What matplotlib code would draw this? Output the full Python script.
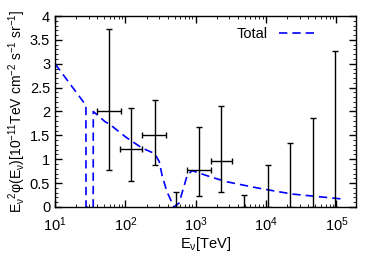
import numpy as np
import matplotlib.pyplot as plt
from matplotlib.ticker import LogLocator, MultipleLocator, NullFormatter, FormatStrFormatter

plt.rcParams['font.family'] = ['Liberation Sans', 'DejaVu Sans']
plt.rcParams['mathtext.fontset'] = 'custom'
plt.rcParams['mathtext.rm'] = 'Liberation Sans'
plt.rcParams['mathtext.it'] = 'Liberation Sans'

# data points (with x ranges)
ex = [59, 120, 260, 1120, 2300]
ey = [2.02, 1.22, 1.50, 0.77, 0.97]
ey_lo = [0.78, 0.55, 0.88, 0.22, 0.32]
ey_hi = [3.72, 2.07, 2.25, 1.68, 2.12]
ex_lo = [40, 84, 174, 760, 1660]
ex_hi = [87, 174, 380, 1660, 3300]

# upper limits
ul_x = [525, 4900, 10500, 22000, 46000, 94000]
ul_y = [0.32, 0.24, 0.88, 1.33, 1.86, 3.27]

# model curve "Total"
cx = [10, 27.5, 27.6, 34.9, 35, 52, 59, 100, 174, 260, 303, 335, 390, 490,
      580, 680, 760, 890, 1550, 2700, 8000, 23500, 71000, 132000]
cy = [3.0, 2.13, 0.0, 0.0, 2.0, 1.78, 1.74, 1.47, 1.23, 1.12, 0.95, 0.64, 0.32, 0.0,
      0.08, 0.43, 0.67, 0.76, 0.64, 0.53, 0.39, 0.27, 0.20, 0.16]

fig = plt.figure(figsize=(3.82, 2.67), dpi=100)
ax = fig.add_axes([0.144, 0.225, 0.788, 0.715])

ax.plot(cx, cy, color='#0000ff', ls=(0, (5, 3)), lw=1.2, label='Total')

ex = np.array(ex); ey = np.array(ey)
ax.errorbar(ex, ey,
            yerr=[ey - np.array(ey_lo), np.array(ey_hi) - ey],
            xerr=[ex - np.array(ex_lo), np.array(ex_hi) - ex],
            fmt='none', ecolor='black', elinewidth=1, capsize=2.5, capthick=1)
ax.errorbar(ul_x, np.zeros(len(ul_x)), yerr=[np.zeros(len(ul_y)), ul_y],
            fmt='none', ecolor='black', elinewidth=1, capsize=2.5, capthick=1)

ax.set_xscale('log')
ax.set_xlim(10, 1.9e5)
ax.set_ylim(0, 4)
ax.yaxis.set_major_locator(MultipleLocator(0.5))
ax.yaxis.set_minor_locator(MultipleLocator(0.1))
ax.yaxis.set_major_formatter(FormatStrFormatter('%g'))
ax.xaxis.set_major_locator(LogLocator(base=10, numticks=10))
ax.xaxis.set_minor_locator(LogLocator(base=10, subs=np.arange(2, 10), numticks=20))
ax.xaxis.set_minor_formatter(NullFormatter())
ax.tick_params(which='both', direction='in', top=True, right=True, labelsize=10.5)
ax.tick_params(which='major', length=5, width=1)
ax.tick_params(which='minor', length=2.5)
ax.tick_params(axis='x', which='major', pad=6)
for s in ax.spines.values():
    s.set_linewidth(1)

ax.set_xlabel(r'E$_\nu$[TeV]', fontsize=10.5, labelpad=1)
ax.set_ylabel(r'E$_\nu$$^2$φ(E$_\nu$)[10$^{-11}$TeV cm$^{-2}$ s$^{-1}$ sr$^{-1}$]',
              fontsize=10, labelpad=1)

leg = ax.legend(loc='upper right', frameon=False, fontsize=10.5, markerfirst=False,
                handlelength=2.5, bbox_to_anchor=(0.91, 1.01))

fig.savefig('out.png', dpi=100)
